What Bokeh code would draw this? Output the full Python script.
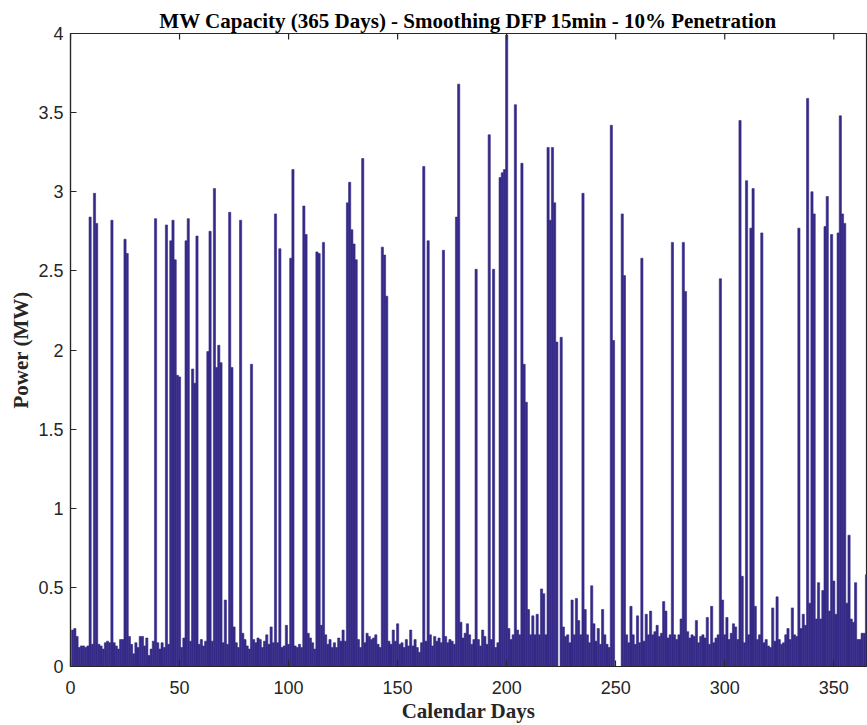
import math
from bokeh.plotting import figure
from bokeh.models import Range1d, FixedTicker, ColumnDataSource
from bokeh.embed import file_html
from bokeh.resources import INLINE

days = list(range(1, 366))
power = [
    0.23, 0.24, 0.19, 0.12, 0.13, 0.13, 0.12, 0.13, 2.84, 0.14,
    2.99, 2.80, 0.14, 0.13, 0.11, 0.15, 0.16, 0.15, 2.82, 0.15,
    0.13, 0.11, 0.17, 0.17, 2.70, 2.61, 0.19, 0.14, 0.08, 0.15,
    0.12, 0.19, 0.19, 0.13, 0.18, 0.07, 0.11, 0.16, 2.83, 0.15,
    0.11, 0.15, 0.12, 2.79, 0.14, 2.69, 2.82, 2.57, 1.84, 1.83,
    0.12, 0.18, 2.69, 2.83, 0.16, 1.88, 1.79, 2.72, 0.14, 0.17,
    0.13, 0.16, 1.99, 2.75, 0.16, 3.02, 1.89, 2.03, 1.92, 0.15,
    0.42, 0.14, 2.87, 1.89, 0.25, 0.15, 0.12, 2.82, 0.21, 0.17,
    0.13, 0.11, 1.91, 0.17, 0.15, 0.18, 0.17, 0.12, 0.16, 0.20,
    0.14, 0.25, 0.15, 2.86, 0.15, 2.64, 0.12, 0.13, 0.26, 0.14,
    2.58, 3.14, 0.13, 0.12, 0.14, 0.12, 2.91, 2.73, 0.21, 0.18,
    0.15, 0.11, 2.62, 2.61, 0.26, 2.68, 0.20, 0.14, 0.17, 0.12,
    0.15, 0.12, 0.18, 0.16, 0.23, 0.16, 2.93, 3.06, 2.76, 2.67,
    2.57, 0.17, 0.12, 3.21, 0.15, 0.21, 0.19, 0.17, 0.18, 0.20,
    0.14, 0.12, 2.65, 2.60, 2.34, 0.16, 0.14, 0.23, 0.16, 0.27,
    0.14, 0.15, 0.12, 0.17, 0.13, 0.23, 0.13, 0.17, 0.12, 0.09,
    0.15, 3.16, 0.16, 2.69, 0.20, 0.13, 0.19, 0.16, 0.18, 0.15,
    2.63, 0.19, 0.15, 0.17, 0.16, 0.14, 2.84, 3.68, 0.28, 0.18,
    0.21, 0.27, 0.20, 0.14, 0.17, 2.51, 0.17, 0.13, 0.23, 0.19,
    0.14, 3.36, 0.17, 2.51, 0.12, 0.15, 3.09, 3.12, 3.14, 3.99,
    0.24, 0.17, 0.20, 3.55, 0.23, 0.20, 3.18, 1.91, 1.67, 0.36,
    0.20, 0.32, 0.20, 0.33, 0.20, 0.49, 0.46, 0.20, 3.28, 2.82,
    3.28, 2.93, 2.05, 0.00, 2.08, 0.25, 0.19, 0.20, 0.15, 0.42,
    0.20, 0.43, 0.29, 0.20, 2.99, 0.36, 0.20, 0.15, 0.51, 0.27,
    0.16, 0.24, 0.14, 0.36, 0.20, 0.14, 0.12, 3.42, 2.06, 0.00,
    0.00, 0.00, 2.86, 2.47, 0.20, 0.15, 0.38, 0.20, 0.14, 0.32,
    0.15, 2.58, 0.16, 0.33, 0.20, 0.35, 0.20, 0.22, 0.26, 0.19,
    0.21, 0.41, 0.35, 0.18, 0.20, 2.68, 0.20, 0.17, 0.20, 0.30,
    2.68, 2.37, 0.22, 0.18, 0.20, 0.19, 0.29, 0.15, 0.19, 0.20,
    0.18, 0.31, 0.14, 0.38, 0.15, 0.18, 0.20, 2.45, 0.42, 0.20,
    0.31, 0.17, 0.21, 0.27, 0.25, 0.17, 3.45, 0.57, 0.15, 3.07,
    0.20, 2.77, 3.02, 0.38, 0.17, 0.20, 2.74, 0.15, 0.17, 0.13,
    0.12, 0.37, 0.16, 0.44, 0.17, 0.14, 0.15, 0.20, 0.24, 0.17,
    0.37, 0.20, 0.19, 2.77, 0.24, 0.33, 0.26, 3.59, 0.40, 3.00,
    2.86, 0.30, 0.53, 0.30, 0.48, 2.78, 2.97, 0.35, 2.73, 0.54,
    0.33, 2.74, 3.48, 2.86, 2.80, 0.40, 0.83, 0.30, 0.28, 0.53,
    0.17, 0.17, 0.21, 0.21, 0.58,
]
x_ticks = [0, 50, 100, 150, 200, 250, 300, 350]
y_ticks = [0, 0.5, 1, 1.5, 2, 2.5, 3, 3.5, 4]
y_tick_labels = ["0", "0.5", "1", "1.5", "2", "2.5", "3", "3.5", "4"]
y_max = 4

BAR = "#352A87"
AX = "#262626"
SERIF = "Liberation Serif"
SANS = "'Liberation Sans Narrow', 'Liberation Sans', sans-serif"

src = ColumnDataSource(dict(day=days, power=power))

p = figure(width=867, height=725, output_backend="svg", toolbar_location=None,
           x_range=Range1d(0, 365), y_range=Range1d(0, y_max),
           min_border_left=70, min_border_right=1, min_border_top=33,
           min_border_bottom=58)
p.vbar(x="day", top="power", bottom=0, width=1.0, source=src,
       fill_color=BAR, line_color=BAR, line_width=0.6)

# tick marks along the top edge of the box (MATLAB style)
p.scatter(x=x_ticks, y=[y_max] * len(x_ticks), marker="dash", angle=math.pi / 2,
          size=12, line_color=AX, line_width=1.2)

p.title.text = "MW Capacity (365 Days) - Smoothing DFP 15min - 10% Penetration"
p.title.text_font = SERIF
p.title.text_font_style = "bold"
p.title.text_font_size = "21px"
p.title.align = "center"
p.title.text_color = "#000000"
p.title.standoff = 2

p.xgrid.visible = False
p.ygrid.visible = False
p.outline_line_color = AX
p.outline_line_width = 1.2
p.background_fill_color = "white"
p.border_fill_color = "white"

for ax, ticks in ((p.xaxis[0], x_ticks), (p.yaxis[0], y_ticks)):
    ax.ticker = FixedTicker(ticks=ticks)
    ax.minor_tick_line_color = None
    ax.major_tick_in = 6
    ax.major_tick_out = 0
    ax.major_tick_line_color = AX
    ax.major_tick_line_width = 1.2
    ax.axis_line_color = AX
    ax.axis_line_width = 1.2
    ax.major_label_text_font = SANS
    ax.major_label_text_font_size = "18px"
    ax.major_label_text_color = AX
    ax.axis_label_text_font = SERIF
    ax.axis_label_text_font_style = "bold"
    ax.axis_label_text_font_size = "21px"
    ax.axis_label_text_color = AX

p.yaxis[0].major_label_overrides = {t: s for t, s in zip(y_ticks, y_tick_labels)}
p.xaxis[0].axis_label = "Calendar Days"
p.yaxis[0].axis_label = "Power (MW)"
p.xaxis[0].major_label_standoff = 14
p.yaxis[0].major_label_standoff = 7
p.xaxis[0].axis_label_standoff = 2
p.yaxis[0].axis_label_standoff = 2

open("out.html", "w").write(file_html(p, INLINE))
